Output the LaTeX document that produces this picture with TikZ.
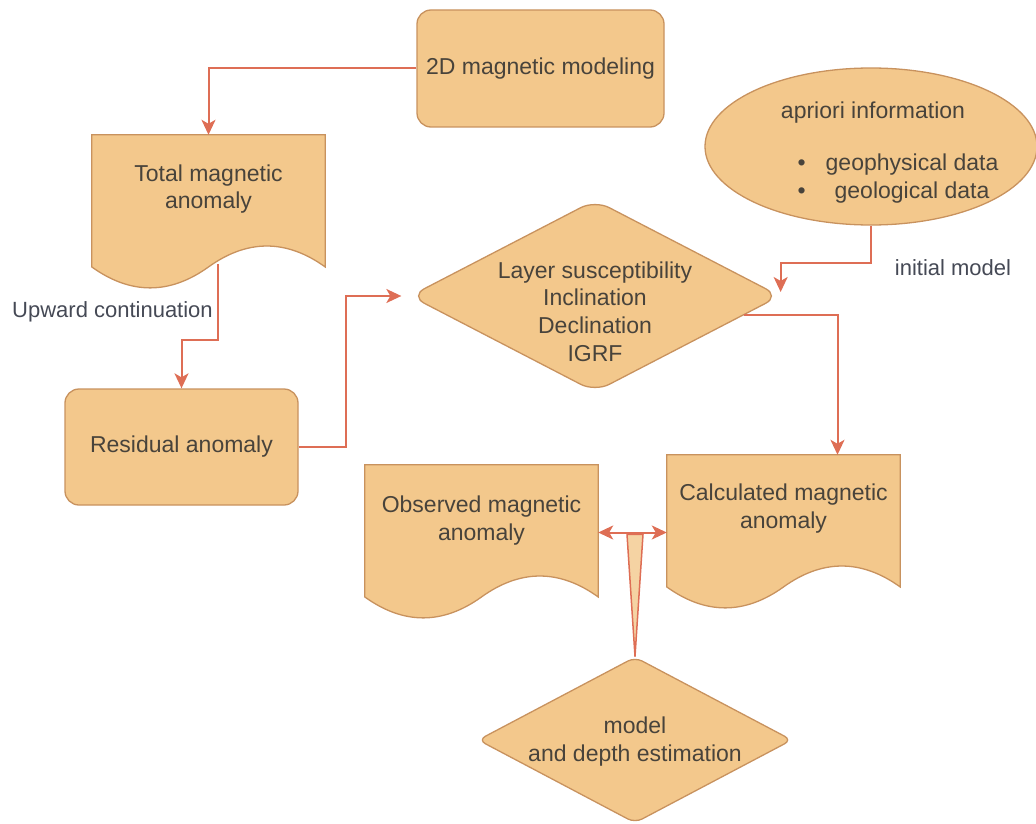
\documentclass[tikz,border=0pt]{standalone}
\usepackage{fontspec}
\setmainfont{Liberation Sans}
\usetikzlibrary{shapes.geometric,arrows.meta,calc}

\definecolor{shapefill}{HTML}{F3C88C}
\definecolor{shapeline}{HTML}{C8925E}
\definecolor{linkred}{HTML}{DE6E55}
\definecolor{boxtext}{HTML}{48433B}
\definecolor{labeltext}{HTML}{454955}

\tikzset{
  shapestyle/.style={draw=shapeline, fill=shapefill, line width=1.3pt},
  docbox/.style={minimum width=233pt, minimum height=155pt, inner sep=0pt, draw=none},
  txt/.style={text=boxtext, font=\fontsize{23}{27.6}\selectfont, align=center, inner sep=0pt},
  lbl/.style={text=labeltext, font=\fontsize{22}{26}\selectfont, inner sep=0pt},
  conn/.style={draw=linkred, line width=2pt, -{Stealth[length=15pt,width=14pt,inset=4pt]}},
  dconn/.style={draw=linkred, line width=2pt,
    {Stealth[length=15pt,width=14pt,inset=4pt]}-{Stealth[length=15pt,width=14pt,inset=4pt]}},
}

% document shape (flat top, wavy bottom) drawn around a docbox node
\newcommand\docoutline[1]{%
  \draw[shapestyle] (#1.north west) -- (#1.north east) -- ($(#1.south east)+(0,-23.25)$)
    .. controls ($(#1.south east)+(-38.83,-51.15)$) and ($(#1.south)+(38.83,-51.15)$) .. ($(#1.south)+(0,-23.25)$)
    .. controls ($(#1.south)+(-38.83,4.65)$) and ($(#1.south west)+(38.83,4.65)$) .. ($(#1.south west)+(0,-23.25)$)
    -- cycle;}

\begin{document}
\begin{tikzpicture}[x=1pt,y=-1pt]
\useasboundingbox (0,0) rectangle (1036,824);

% process boxes
\node[shapestyle, rounded corners=14pt, minimum width=247pt, minimum height=117pt, txt]
  (model2d) at (540.5,68.5) {2D magnetic modeling};
\node[shapestyle, rounded corners=14pt, minimum width=233pt, minimum height=116pt, txt]
  (residual) at (181.5,447) {Residual anomaly};

% documents
\node[docbox] (total) at (208.5,212.5) {};
\docoutline{total}
\node[txt] (total-t) at (208.5,189) {Total magnetic\\anomaly};

\node[docbox] (observed) at (481.5,542.5) {};
\docoutline{observed}
\node[txt] (observed-t) at (481.5,520.5) {Observed magnetic\\anomaly};

\node[docbox] (calc) at (783.5,532.5) {};
\docoutline{calc}
\node[txt] (calc-t) at (783.5,508.5) {Calculated magnetic\\anomaly};

% a priori information
\node[shapestyle, ellipse, minimum width=332pt, minimum height=157pt, inner sep=0pt]
  (apriori) at (871,146.5) {};
\node[txt] (apriori-t) at (873,113) {apriori information};
\node[txt] (apriori-list) at (898,179)
  {\begin{tabular}{@{}c@{\hspace{20pt}}c@{}}\textbullet & geophysical data\\ \textbullet & geological data\end{tabular}};

% decision diamonds
\node[shapestyle, diamond, rounded corners=16pt, minimum width=370pt, minimum height=192pt, inner sep=0pt]
  (layer) at (595,296) {};
\node[txt] (layer-t) at (595,311.5) {Layer susceptibility\\Inclination\\Declination\\IGRF};

\node[shapestyle, diamond, rounded corners=8pt, minimum width=314pt, minimum height=166pt, inner sep=0pt]
  (depth) at (635,740) {};
\node[txt] (depth-t) at (635,741.5) {model\\and depth estimation};

% connectors
\draw[conn] (model2d.west) -| (total.north);

\coordinate (total-out) at ($(total.south)+(9.5,-26)$);
\draw[conn] (total-out) -- ++(0,76) -| (residual.north);
\node[lbl, anchor=west] (upward) at (12,312) {Upward continuation};

\draw[conn] (residual.east) -- ++(47,0) |- ($(layer.west)+(-8,0)$);

\draw[conn] (apriori.south) -- ++(0,37) -| ($(layer.east)+(0,-4)$);
\node[lbl] (initial) at (953,268) {initial model};

\coordinate (layer-out) at ($(layer.east)!0.2!(layer.south)$);
\draw[conn] (layer-out) -| ($(calc.north)+(54,0)$);

\draw[dconn] (observed.east |- calc.west) -- (calc.west);

\draw[draw=linkred, fill=shapefill!80!white, line width=1.5pt, line join=round]
  ($(depth.north)+(-8,-122)$) -- ($(depth.north)+(8,-122)$) -- (depth.north) -- cycle;

\end{tikzpicture}
\end{document}
